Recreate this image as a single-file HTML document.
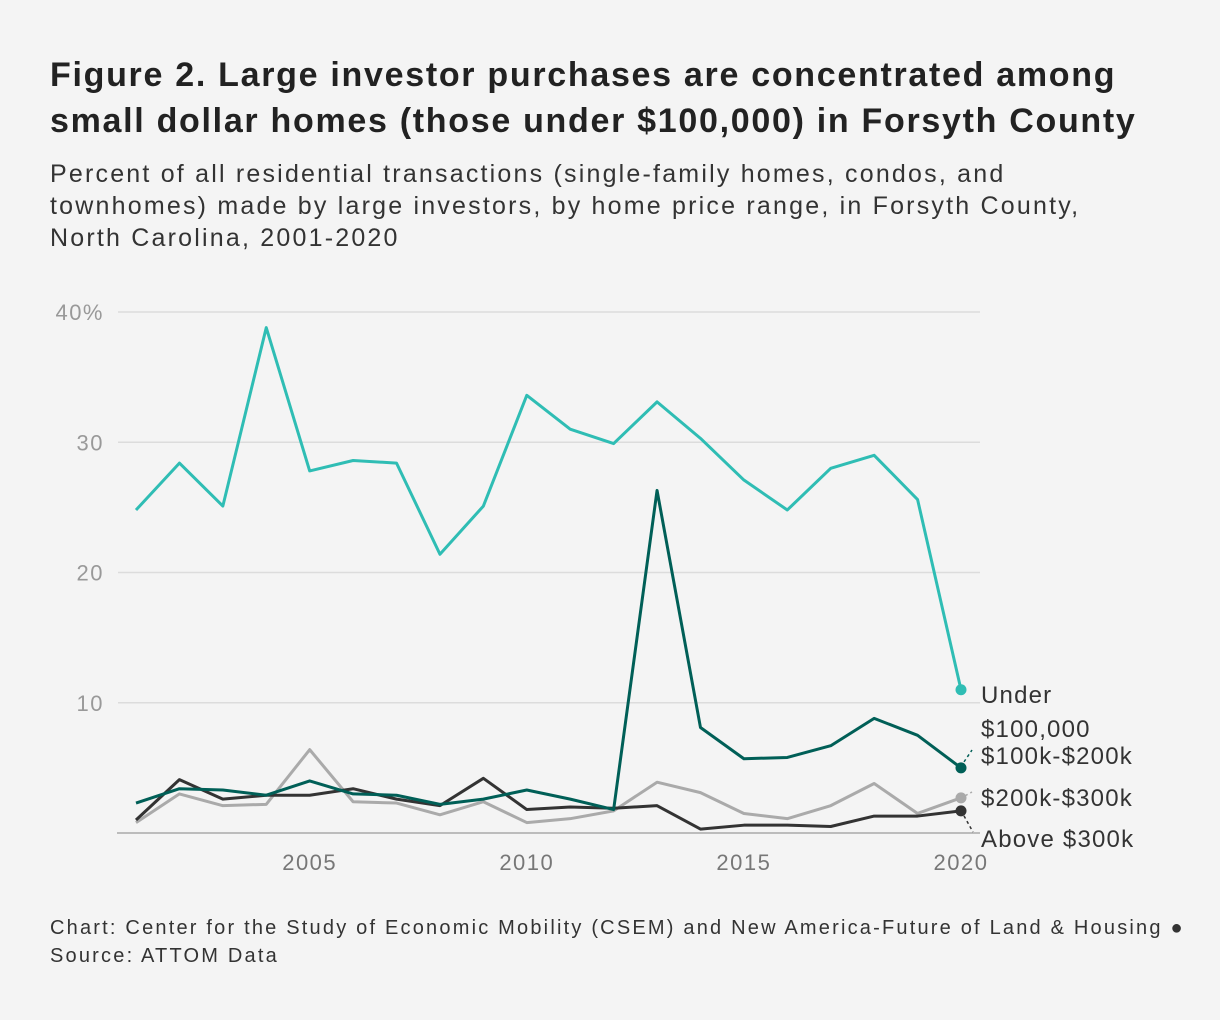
<!DOCTYPE html>
<html><head><meta charset="utf-8"><style>
body{margin:0;background:#f4f4f4;font-family:"Liberation Sans",sans-serif;}
#wrap{position:relative;width:1220px;height:1020px;background:#f4f4f4;overflow:hidden}
h1{position:absolute;left:50px;top:52px;margin:0;font-size:34px;line-height:46px;font-weight:bold;color:#222;width:1180px;letter-spacing:1.7px;white-space:nowrap}
.sub{position:absolute;left:50px;top:158px;font-size:25px;line-height:32px;color:#333;width:1150px;letter-spacing:2.2px;white-space:nowrap}
.foot{position:absolute;left:50px;top:914px;font-size:20px;line-height:28px;color:#333;letter-spacing:2.2px;white-space:nowrap}
svg{position:absolute;left:0;top:0}
</style></head><body>
<div id="wrap">
<h1>Figure 2. Large investor purchases are concentrated among<br>small dollar homes (those under $100,000) in Forsyth County</h1>
<div class="sub">Percent of all residential transactions (single-family homes, condos, and<br>townhomes) made by large investors, by home price range, in Forsyth County,<br>North Carolina, 2001-2020</div>
<svg id="chart" width="1220" height="1020"></svg>
<div class="foot">Chart: Center for the Study of Economic Mobility (CSEM) and New America-Future of Land &amp; Housing ●<br>Source: ATTOM Data</div>
</div>
<script>
const years=[2001,2002,2003,2004,2005,2006,2007,2008,2009,2010,2011,2012,2013,2014,2015,2016,2017,2018,2019,2020];
const under100k=[24.8,28.4,25.1,38.8,27.8,28.6,28.4,21.4,25.1,33.6,31.0,29.9,33.1,30.3,27.1,24.8,28.0,29.0,25.6,11.0];
const r100to200=[2.3,3.4,3.3,2.9,4.0,3.0,2.9,2.2,2.6,3.3,2.6,1.8,26.3,8.1,5.7,5.8,6.7,8.8,7.5,5.0];
const r200to300=[0.8,3.0,2.1,2.2,6.4,2.4,2.3,1.4,2.4,0.8,1.1,1.7,3.9,3.1,1.5,1.1,2.1,3.8,1.5,2.7];
const above300=[1.0,4.1,2.6,2.9,2.9,3.4,2.6,2.1,4.2,1.8,2.0,1.9,2.1,0.3,0.6,0.6,0.5,1.3,1.3,1.7];
const yTicks=[10,20,30,40];
const yTickLabels=["10","20","30","40%"];
const xTicks=[2005,2010,2015,2020];
const NS="http://www.w3.org/2000/svg";
const svg=document.getElementById('chart');
const x=v=>136+(v-2001)*(961-136)/19;
const y=v=>833-v*(833-312)/40;
function mk(t,a,txt){const e=document.createElementNS(NS,t);for(const k in a)e.setAttribute(k,a[k]);if(txt!==undefined)e.textContent=txt;svg.appendChild(e);return e;}
yTicks.forEach((t,i)=>{
 const g=mk('line',{x1:118,x2:980,y1:y(t),y2:y(t),stroke:'#dcdcdc','stroke-width':1.5});
 
 
 const l=mk('text',{x:104,y:y(t)+8,'text-anchor':'end','font-size':22,fill:'#999','letter-spacing':1.5},yTickLabels[i]);
 
 
});
const base=mk('line',{x1:117,x2:980,y1:833,y2:833,stroke:'#aaa','stroke-width':1.5});


xTicks.forEach(t=>{
 const l=mk('text',{x:x(t),y:870,'text-anchor':'middle','font-size':22,fill:'#777','letter-spacing':1.5},String(t));
 
 
});
const series=[
 {d:under100k,c:'#2fbdb4',n:'under-100k'},
 {d:r200to300,c:'#aaaaaa',n:'200k-300k'},
 {d:above300,c:'#333333',n:'above-300k'},
 {d:r100to200,c:'#005f57',n:'100k-200k'}
];
series.forEach(s=>{
 const p=mk('polyline',{points:s.d.map((v,i)=>x(years[i])+','+y(v)).join(' '),fill:'none',stroke:s.c,'stroke-width':3,'stroke-linejoin':'round'});
 
 
 const last=s.d.length-1;
 const c=mk('circle',{cx:x(years[last]),cy:y(s.d[last]),r:5.5,fill:s.c});
 
 
});
const labels=[["Under",703],["$100,000",737],["$100k-$200k",764],["$200k-$300k",806],["Above $300k",847]];
labels.forEach(l=>{
 const t=mk('text',{x:981,y:l[1],'font-size':24,fill:'#333','letter-spacing':1.2},l[0]);
 
 
});
[[x(2020)+3,y(5.0)-6,972,750,'#005f57'],[x(2020)+4,y(2.7)-2,972,792,'#aaa'],[x(2020)+3,y(1.7)+5,973,832,'#333']].forEach(d=>{
 const l=mk('line',{x1:d[0],y1:d[1],x2:d[2],y2:d[3],stroke:d[4],'stroke-width':1.5,'stroke-dasharray':'3,3'});
 
 
});
</script>
</body></html>
